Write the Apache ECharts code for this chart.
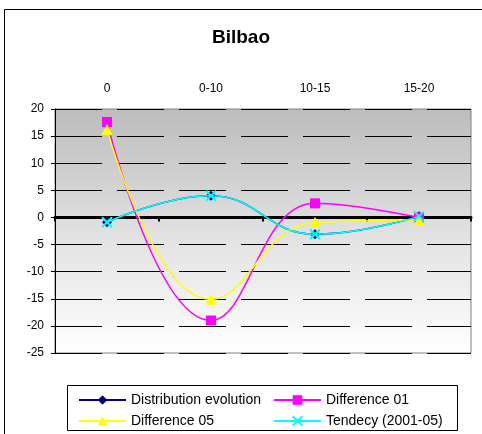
<!DOCTYPE html>
<html>
<head>
<meta charset="utf-8">
<script src="https://cdn.jsdelivr.net/npm/echarts@6/dist/echarts.min.js"></script>
<style>
html, body { margin: 0; padding: 0; background: #fff; }
#chart { width: 482px; height: 434px; }
</style>
</head>
<body>
<div id="chart"></div>
<script>
const categories = ['0', '0-10', '10-15', '15-20'];
const distributionEvolution = [-0.9, 4.0, -3.1, 0.2];
const difference01 = [17.6, -19.0, 2.6, 0.0];
const difference05 = [16.2, -15.1, -0.9, -0.5];
const tendecy = [-0.9, 4.0, -3.1, 0.2];

const font = 'Liberation Sans, Arial, sans-serif';

const chart = echarts.init(document.getElementById('chart'), null, { renderer: 'canvas' });

const makeSeries = (name, data, color, symbol, size, z, stroke) => ({
    name,
    type: 'line',
    data,
    smooth: 0.45,
    symbol,
    symbolSize: size,
    z,
    lineStyle: { color, width: 1.5 },
    itemStyle: stroke ? { color, borderColor: color, borderWidth: 2 } : { color },
    emphasis: { disabled: true },
});

const legendText = { fontFamily: font, fontSize: 14, color: '#000' };

chart.setOption({
    animation: false,
    textStyle: { fontFamily: font },
    title: {
        text: 'Bilbao',
        left: 'center',
        top: 23,
        textStyle: { fontFamily: font, fontSize: 19, fontWeight: 'bold', color: '#000' },
    },
    grid: {
        left: 55,
        right: 11,
        top: 109,
        height: 244,
        show: true,
        borderColor: '#808080',
        borderWidth: 1,
        backgroundColor: {
            type: 'linear', x: 0, y: 0, x2: 0, y2: 1,
            colorStops: [
                { offset: 0, color: '#bcbcbc' },
                { offset: 0.5, color: '#e0e0e0' },
                { offset: 1, color: '#ffffff' },
            ],
        },
    },
    legend: [
        {
            orient: 'vertical',
            left: 73,
            top: 388,
            itemGap: 7,
            itemWidth: 47,
            itemHeight: 12,
            textStyle: legendText,
            data: ['Distribution evolution', 'Difference 05'],
        },
        {
            orient: 'vertical',
            left: 268,
            top: 388,
            itemGap: 7,
            itemWidth: 47,
            itemHeight: 12,
            textStyle: legendText,
            data: ['Difference 01', 'Tendecy (2001-05)'],
        },
    ],
    graphic: [
        { type: 'rect', shape: { x: 4.5, y: 9.5, width: 500, height: 450 }, style: { fill: null, stroke: '#000', lineWidth: 1 }, silent: true },
        { type: 'rect', shape: { x: 67.5, y: 385.5, width: 390, height: 45 }, style: { fill: null, stroke: '#000', lineWidth: 1 }, silent: true },
    ],
    xAxis: [
        {
            type: 'category',
            data: categories,
            position: 'top',
            axisLine: { show: false, onZero: false },
            axisTick: { show: false },
            axisLabel: { margin: 14, fontFamily: font, fontSize: 12, color: '#000' },
            splitLine: { show: false },
        },
        {
            type: 'category',
            data: categories,
            position: 'bottom',
            axisLine: { onZero: true, lineStyle: { color: '#000', width: 3 } },
            axisTick: { show: true, length: 4, lineStyle: { color: '#000', width: 2 } },
            axisLabel: { show: false },
            splitLine: { show: false },
        },
    ],
    yAxis: {
        type: 'value',
        min: -25,
        max: 20,
        interval: 5,
        axisLine: { show: true, lineStyle: { color: '#000', width: 1 } },
        axisTick: { show: true, length: 4, lineStyle: { color: '#000' } },
        axisLabel: { margin: 11, fontFamily: font, fontSize: 12, color: '#000' },
        splitLine: { lineStyle: { color: '#000', width: 1, type: [47, 15] } },
    },
    series: [
        makeSeries('Distribution evolution', distributionEvolution, '#000080', 'diamond', 10, 3),
        makeSeries('Difference 01', difference01, '#ff00ff', 'rect', 10, 4),
        makeSeries('Difference 05', difference05, '#ffff00', 'triangle', 11, 5),
        makeSeries('Tendecy (2001-05)', tendecy, '#00ffff', 'path://M0,0L10,10M10,0L0,10', 10, 6, true),
    ],
});
</script>
</body>
</html>
